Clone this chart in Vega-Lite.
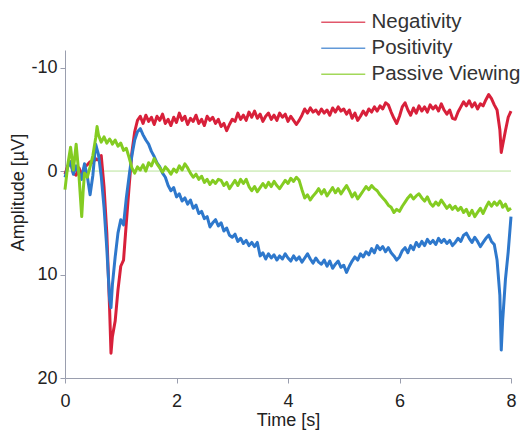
{
"$schema": "https://vega.github.io/schema/vega-lite/v6.json",
"autosize": {"type": "none"},
"width": 446, "height": 328,
"padding": {"left": 65, "top": 50, "right": 11, "bottom": 52},
"background": "white",
"config": {"view": {"stroke": null}, "font": "Liberation Sans"},
"data": {"values": [
{"t":0,"N":0.3,"P":0.6,"V":1.8},
{"t":0.05,"N":-0.5,"P":-0.4,"V":-0.6},
{"t":0.1,"N":-0.9,"P":-0.9,"V":-2.3},
{"t":0.15,"N":0.2,"P":0.3,"V":-0.1},
{"t":0.2,"N":0.4,"P":-0.5,"V":-2.6},
{"t":0.25,"N":-0.3,"P":0.2,"V":0.4},
{"t":0.3,"N":0.3,"P":0.8,"V":4.4},
{"t":0.325,"N":0.1,"P":0.0,"V":2.0},
{"t":0.35,"N":-0.4,"P":-0.7,"V":0.2},
{"t":0.4,"N":-0.6,"P":0.5,"V":0.6},
{"t":0.45,"N":-0.9,"P":2.3,"V":-0.4},
{"t":0.5,"N":-0.8,"P":0.4,"V":-1.5},
{"t":0.55,"N":-1.2,"P":-2.6,"V":-3.2},
{"t":0.575,"N":-1.1,"P":-2.1,"V":-4.3},
{"t":0.6,"N":-1.1,"P":-1.6,"V":-3.5},
{"t":0.65,"N":-1.5,"P":0.5,"V":-2.8},
{"t":0.7,"N":1.5,"P":3.5,"V":-3.3},
{"t":0.75,"N":6.0,"P":7.5,"V":-2.7},
{"t":0.8,"N":13.3,"P":12.4,"V":-3.1},
{"t":0.825,"N":17.6,"P":13.2,"V":-2.9},
{"t":0.85,"N":16.0,"P":11.0,"V":-2.6},
{"t":0.9,"N":14.5,"P":8.3,"V":-3.0},
{"t":0.95,"N":11.5,"P":6.0,"V":-2.4},
{"t":1.0,"N":9.2,"P":4.7,"V":-2.7},
{"t":1.05,"N":8.6,"P":5.2,"V":-2.0},
{"t":1.1,"N":5.0,"P":2.6,"V":-2.2},
{"t":1.15,"N":1.5,"P":0.5,"V":-1.3},
{"t":1.2,"N":-1.8,"P":-1.5,"V":-0.3},
{"t":1.25,"N":-3.8,"P":-3.0,"V":0.2},
{"t":1.3,"N":-4.9,"P":-3.8,"V":-0.4},
{"t":1.35,"N":-5.3,"P":-4.1,"V":-0.1},
{"t":1.4,"N":-4.6,"P":-3.5,"V":-0.6},
{"t":1.45,"N":-5.4,"P":-3.0,"V":0.0},
{"t":1.5,"N":-4.8,"P":-2.6,"V":-0.8},
{"t":1.55,"N":-5.2,"P":-1.9,"V":-0.5},
{"t":1.6,"N":-4.5,"P":-1.4,"V":-1.2},
{"t":1.65,"N":-5.3,"P":-0.8,"V":-0.7},
{"t":1.7,"N":-4.9,"P":-0.4,"V":-0.3},
{"t":1.75,"N":-5.5,"P":0.2,"V":0.1},
{"t":1.8,"N":-4.6,"P":0.6,"V":-0.4},
{"t":1.85,"N":-5.0,"P":1.4,"V":-0.1},
{"t":1.9,"N":-4.4,"P":1.9,"V":0.3},
{"t":1.95,"N":-5.2,"P":1.6,"V":-0.2},
{"t":2.0,"N":-4.7,"P":2.5,"V":0.1},
{"t":2.05,"N":-5.6,"P":2.2,"V":-0.5},
{"t":2.1,"N":-4.9,"P":2.9,"V":-0.1},
{"t":2.15,"N":-5.3,"P":2.6,"V":-0.7},
{"t":2.2,"N":-4.5,"P":3.2,"V":-0.3},
{"t":2.25,"N":-5.1,"P":2.8,"V":0.2},
{"t":2.3,"N":-4.8,"P":3.6,"V":0.6},
{"t":2.35,"N":-5.4,"P":3.3,"V":0.3},
{"t":2.4,"N":-4.6,"P":4.1,"V":0.8},
{"t":2.45,"N":-5.0,"P":3.9,"V":0.5},
{"t":2.5,"N":-4.4,"P":4.6,"V":1.1},
{"t":2.55,"N":-5.3,"P":4.4,"V":0.8},
{"t":2.6,"N":-4.9,"P":5.4,"V":1.3},
{"t":2.65,"N":-5.2,"P":5.0,"V":0.9},
{"t":2.7,"N":-4.6,"P":4.7,"V":1.2},
{"t":2.75,"N":-5.0,"P":5.3,"V":0.8},
{"t":2.8,"N":-4.3,"P":5.0,"V":0.9},
{"t":2.85,"N":-4.6,"P":5.8,"V":1.4},
{"t":2.9,"N":-3.9,"P":5.5,"V":1.1},
{"t":2.95,"N":-4.5,"P":6.2,"V":1.7},
{"t":3.0,"N":-5.0,"P":6.4,"V":1.3},
{"t":3.05,"N":-4.8,"P":6.1,"V":0.9},
{"t":3.1,"N":-5.6,"P":6.8,"V":1.4},
{"t":3.15,"N":-5.0,"P":6.5,"V":0.8},
{"t":3.2,"N":-5.4,"P":7.0,"V":1.2},
{"t":3.25,"N":-4.9,"P":6.7,"V":0.8},
{"t":3.3,"N":-5.7,"P":7.2,"V":1.5},
{"t":3.35,"N":-5.2,"P":6.9,"V":1.9},
{"t":3.4,"N":-5.8,"P":7.3,"V":1.5},
{"t":3.45,"N":-5.1,"P":6.9,"V":2.0},
{"t":3.5,"N":-5.5,"P":8.2,"V":1.6},
{"t":3.55,"N":-4.8,"P":7.9,"V":1.2},
{"t":3.6,"N":-5.3,"P":8.5,"V":1.6},
{"t":3.65,"N":-5.6,"P":8.0,"V":1.1},
{"t":3.7,"N":-5.0,"P":8.4,"V":1.5},
{"t":3.75,"N":-5.4,"P":8.1,"V":1.0},
{"t":3.8,"N":-4.9,"P":8.6,"V":1.4},
{"t":3.85,"N":-5.6,"P":8.2,"V":1.7},
{"t":3.9,"N":-5.2,"P":8.5,"V":1.3},
{"t":3.95,"N":-5.5,"P":8.0,"V":0.9},
{"t":4.0,"N":-4.8,"P":8.4,"V":1.2},
{"t":4.05,"N":-5.3,"P":8.7,"V":0.7},
{"t":4.1,"N":-4.9,"P":8.2,"V":1.0},
{"t":4.15,"N":-4.5,"P":8.6,"V":0.6},
{"t":4.2,"N":-4.9,"P":8.3,"V":0.9},
{"t":4.25,"N":-5.4,"P":8.8,"V":1.8},
{"t":4.3,"N":-6.0,"P":8.4,"V":2.6},
{"t":4.35,"N":-5.6,"P":8.0,"V":2.3},
{"t":4.4,"N":-6.1,"P":8.5,"V":2.8},
{"t":4.45,"N":-5.7,"P":8.9,"V":2.4},
{"t":4.5,"N":-5.9,"P":8.4,"V":2.1},
{"t":4.55,"N":-5.5,"P":8.8,"V":1.7},
{"t":4.6,"N":-6.0,"P":9.0,"V":2.2},
{"t":4.65,"N":-5.6,"P":8.6,"V":1.8},
{"t":4.7,"N":-5.9,"P":9.2,"V":2.4},
{"t":4.75,"N":-5.4,"P":8.7,"V":2.0},
{"t":4.8,"N":-6.1,"P":9.4,"V":1.6},
{"t":4.85,"N":-5.7,"P":9.0,"V":2.1},
{"t":4.9,"N":-6.2,"P":8.7,"V":1.7},
{"t":4.95,"N":-5.8,"P":9.3,"V":2.2},
{"t":5.0,"N":-6.0,"P":9.1,"V":1.8},
{"t":5.05,"N":-5.5,"P":9.8,"V":1.4},
{"t":5.1,"N":-5.9,"P":9.2,"V":1.9},
{"t":5.15,"N":-5.1,"P":8.7,"V":2.5},
{"t":5.2,"N":-5.6,"P":8.3,"V":2.1},
{"t":5.25,"N":-4.9,"P":8.6,"V":2.7},
{"t":5.3,"N":-5.3,"P":8.0,"V":2.3},
{"t":5.35,"N":-5.8,"P":8.3,"V":1.9},
{"t":5.4,"N":-5.4,"P":7.8,"V":1.5},
{"t":5.45,"N":-6.0,"P":8.1,"V":1.8},
{"t":5.5,"N":-5.7,"P":7.5,"V":1.4},
{"t":5.55,"N":-6.2,"P":7.9,"V":1.7},
{"t":5.6,"N":-5.8,"P":7.2,"V":1.9},
{"t":5.65,"N":-6.3,"P":7.6,"V":2.3},
{"t":5.7,"N":-6.0,"P":7.3,"V":2.6},
{"t":5.75,"N":-6.6,"P":7.8,"V":2.9},
{"t":5.8,"N":-6.4,"P":7.4,"V":3.3},
{"t":5.85,"N":-5.7,"P":7.9,"V":3.5},
{"t":5.9,"N":-5.1,"P":8.2,"V":4.0},
{"t":5.95,"N":-4.6,"P":8.6,"V":3.7},
{"t":6.0,"N":-5.3,"P":8.3,"V":3.9},
{"t":6.05,"N":-6.2,"P":7.7,"V":3.4},
{"t":6.1,"N":-6.6,"P":7.4,"V":3.0},
{"t":6.15,"N":-5.9,"P":7.9,"V":2.6},
{"t":6.2,"N":-5.4,"P":7.2,"V":2.3},
{"t":6.25,"N":-6.1,"P":7.6,"V":2.7},
{"t":6.3,"N":-5.6,"P":6.9,"V":2.4},
{"t":6.35,"N":-6.3,"P":7.3,"V":2.2},
{"t":6.4,"N":-5.8,"P":6.8,"V":2.6},
{"t":6.45,"N":-6.2,"P":7.2,"V":2.9},
{"t":6.5,"N":-5.7,"P":6.6,"V":2.5},
{"t":6.55,"N":-6.4,"P":7.0,"V":3.1},
{"t":6.6,"N":-6.0,"P":6.7,"V":3.4},
{"t":6.65,"N":-6.3,"P":7.1,"V":3.0},
{"t":6.7,"N":-5.8,"P":6.5,"V":3.3},
{"t":6.75,"N":-6.5,"P":6.9,"V":2.8},
{"t":6.8,"N":-5.9,"P":6.6,"V":3.2},
{"t":6.85,"N":-5.5,"P":7.0,"V":3.6},
{"t":6.9,"N":-5.9,"P":6.7,"V":3.3},
{"t":6.95,"N":-5.1,"P":7.2,"V":3.7},
{"t":7.0,"N":-5.0,"P":6.9,"V":3.4},
{"t":7.05,"N":-5.7,"P":6.5,"V":3.8},
{"t":7.1,"N":-6.2,"P":6.8,"V":3.5},
{"t":7.15,"N":-6.7,"P":6.2,"V":4.0},
{"t":7.2,"N":-6.3,"P":6.0,"V":3.7},
{"t":7.25,"N":-6.8,"P":6.5,"V":4.3},
{"t":7.3,"N":-6.2,"P":6.9,"V":3.8},
{"t":7.35,"N":-6.6,"P":6.4,"V":4.4},
{"t":7.4,"N":-6.0,"P":6.8,"V":4.0},
{"t":7.45,"N":-6.5,"P":7.3,"V":3.6},
{"t":7.5,"N":-6.3,"P":6.9,"V":4.1},
{"t":7.55,"N":-6.9,"P":6.5,"V":3.5},
{"t":7.6,"N":-7.4,"P":6.2,"V":3.0},
{"t":7.65,"N":-7.0,"P":6.8,"V":3.4},
{"t":7.7,"N":-6.4,"P":7.1,"V":3.0},
{"t":7.75,"N":-5.9,"P":8.6,"V":3.3},
{"t":7.8,"N":-4.0,"P":12.0,"V":2.9},
{"t":7.825,"N":-1.8,"P":17.3,"V":3.1},
{"t":7.85,"N":-2.5,"P":14.5,"V":3.5},
{"t":7.9,"N":-3.9,"P":10.5,"V":3.2},
{"t":7.95,"N":-5.2,"P":7.8,"V":3.8},
{"t":8.0,"N":-5.8,"P":4.4,"V":3.6}
]},
"layer": [
{
 "data": {"values": [{"z": 0}]},
 "mark": {"type": "rule", "color": "#b9e39a", "strokeWidth": 1},
 "encoding": {"y": {"field": "z", "type": "quantitative"}}
},
{
 "transform": [{"fold": ["N", "P", "V"], "as": ["s", "v"]}],
 "mark": {"type": "line", "strokeWidth": 3, "strokeJoin": "round"},
 "encoding": {
  "x": {"field": "t", "type": "quantitative",
   "scale": {"domain": [0, 8], "nice": false, "zero": false},
   "axis": {"values": [0, 2, 4, 6, 8], "title": "Time [s]", "grid": false,
    "labelFontSize": 18, "labelColor": "#222", "titleFontSize": 18, "titleFontWeight": "normal", "titleColor": "#222",
    "domainColor": "#9a9eae", "tickColor": "#9a9eae", "tickSize": 5, "labelPadding": 9, "titlePadding": 1, "labelFlush": false}},
  "y": {"field": "v", "type": "quantitative",
   "scale": {"domain": [-11.7, 20], "nice": false, "zero": false, "reverse": true},
   "axis": {"values": [-10, 0, 10, 20], "title": "Amplitude [µV]", "grid": false,
    "labelFontSize": 18, "labelColor": "#222", "titleFontSize": 18, "titleFontWeight": "normal", "titleColor": "#222",
    "domainColor": "#9a9eae", "tickColor": "#9a9eae", "tickSize": 5, "labelPadding": 3,
    "titleX": -38, "titleY": 142, "labelExpr": "datum.value < 0 ? '-' + abs(datum.value) : '' + datum.value"}},
  "color": {"field": "s", "type": "nominal",
   "scale": {"domain": ["N", "P", "V"], "range": ["#d8203a", "#2e78cc", "#84cc22"]},
   "legend": {"orient": "none", "legendX": 268, "legendY": -38, "direction": "vertical", "title": null,
    "symbolType": "M-4.4,0H4.4", "symbolSize": 100, "symbolStrokeWidth": 1.5, "symbolOpacity": 0.75,
    "labelFontSize": 20.5, "labelColor": "#333", "labelOffset": 18, "rowPadding": 5, "padding": 0,
    "labelExpr": "datum.label == 'N' ? 'Negativity' : datum.label == 'P' ? 'Positivity' : 'Passive Viewing'"}}
 }
}
]
}
